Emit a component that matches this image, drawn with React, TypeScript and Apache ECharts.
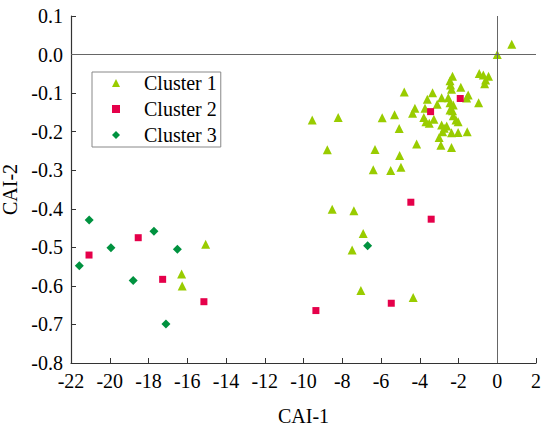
import React, { useEffect, useRef } from "react";
import * as echarts from "echarts";

const c1X = [0.75, 0, -0.93, -0.72, -0.45, -0.6, -0.65, -2.31, -2.44, -2.41, -2.36, -1.88, -1.5, -1.58, -0.96, -3.34, -2.87, -2.53, -3.61, -2.44, -2.27, -2.44, -2.31, -3.1, -4.25, -4.37, -3.79, -3.68, -3.51, -3.27, -2.27, -2.13, -2.02, -5.06, -2.87, -2.74, -2.61, -2.82, -2.36, -2.02, -1.55, -3.0, -4.16, -2.91, -2.36, -5.04, -4.8, -9.55, -8.21, -5.94, -5.3, -8.77, -6.31, -6.4, -5.5, -4.97, -3.73, -8.52, -7.4, -6.92, -7.49, -7.04, -4.34, -15.05, -16.29, -16.26];
const c1Y = [0.027, 0.0, -0.049, -0.053, -0.056, -0.066, -0.076, -0.056, -0.068, -0.079, -0.09, -0.085, -0.105, -0.113, -0.125, -0.099, -0.112, -0.112, -0.116, -0.125, -0.131, -0.144, -0.146, -0.129, -0.139, -0.152, -0.163, -0.174, -0.178, -0.168, -0.159, -0.17, -0.174, -0.192, -0.183, -0.191, -0.185, -0.2, -0.203, -0.202, -0.2, -0.215, -0.232, -0.235, -0.241, -0.262, -0.097, -0.17, -0.163, -0.164, -0.156, -0.247, -0.246, -0.299, -0.301, -0.292, -0.139, -0.401, -0.405, -0.464, -0.507, -0.612, -0.63, -0.492, -0.569, -0.6];

const c2X = [-1.91, -3.44, -4.46, -3.41, -5.47, -9.36, -18.53, -21.07, -17.27, -15.14];
const c2Y = [-0.114, -0.148, -0.383, -0.427, -0.645, -0.664, -0.475, -0.52, -0.583, -0.641];

const c3X = [-21.06, -17.72, -19.94, -16.51, -21.57, -18.79, -17.1, -6.69];
const c3Y = [-0.429, -0.458, -0.501, -0.505, -0.548, -0.586, -0.699, -0.496];

const seriesNames = ["Cluster 1", "Cluster 2", "Cluster 3"];
const xTicks = { min: -22, max: 2, interval: 2 };
const yTicks = { min: -0.8, max: 0.1, interval: 0.1 };

const FONT = "'Liberation Serif', 'Times New Roman', serif";

const pairs = (xs: number[], ys: number[]) => xs.map((x, i) => [x, ys[i]]);

export default function App() {
  const ref = useRef<HTMLDivElement>(null);
  useEffect(() => {
    if (!ref.current) return;
    const chart = echarts.init(ref.current, undefined, { renderer: "svg" });
    const axisCommon = {
      axisLine: { show: true, onZero: false, lineStyle: { color: "#333", width: 1.2 } },
      axisTick: { show: true, inside: true, length: 5, lineStyle: { color: "#333", width: 1 } },
      splitLine: { show: false },
      axisLabel: { color: "#000", fontSize: 20, fontFamily: FONT },
      nameTextStyle: { color: "#000", fontSize: 20, fontFamily: FONT },
    };
    chart.setOption({
      animation: false,
      backgroundColor: "#fff",
      grid: { left: 71, right: 14, top: 16, bottom: 64, containLabel: false, outerBoundsMode: "none" },
      xAxis: {
        type: "value",
        ...axisCommon,
        min: xTicks.min,
        max: xTicks.max,
        interval: xTicks.interval,
        name: "CAI-1",
        nameLocation: "middle",
        nameGap: 43,
        axisLabel: { ...axisCommon.axisLabel, margin: 8 },
      },
      yAxis: {
        type: "value",
        ...axisCommon,
        min: yTicks.min,
        max: yTicks.max,
        interval: yTicks.interval,
        name: "CAI-2",
        nameLocation: "middle",
        nameGap: 43,
        axisLabel: { ...axisCommon.axisLabel, margin: 8, formatter: (v: number) => v.toFixed(1) },
      },
      legend: {
        orient: "vertical",
        left: 92,
        top: 72,
        data: seriesNames,
        padding: [1, 4, 2, 20],
        itemGap: 6,
        itemWidth: 8,
        itemHeight: 8,
        borderColor: "#888",
        borderWidth: 1,
        borderRadius: 0,
        textStyle: { fontSize: 20, fontFamily: FONT, color: "#000", padding: [0, 0, 0, 19], lineHeight: 20 },
      },
      series: [
        {
          name: seriesNames[0],
          type: "scatter",
          symbol: "triangle",
          symbolSize: 9,
          itemStyle: { color: "#99CC00", opacity: 1 },
          data: pairs(c1X, c1Y),
          markLine: {
            silent: true,
            symbol: "none",
            label: { show: false },
            lineStyle: { color: "#666", width: 1, type: "solid" },
            data: [{ xAxis: 0 }, { yAxis: 0 }],
          },
          z: 2,
        },
        {
          name: seriesNames[1],
          type: "scatter",
          symbol: "rect",
          symbolSize: 7,
          itemStyle: { color: "#E5004A", opacity: 1 },
          data: pairs(c2X, c2Y),
          z: 3,
        },
        {
          name: seriesNames[2],
          type: "scatter",
          symbol: "diamond",
          symbolSize: 9,
          itemStyle: { color: "#00923F", opacity: 1 },
          data: pairs(c3X, c3Y),
          z: 4,
        },
      ],
    });
    return () => chart.dispose();
  }, []);
  return (
    <div
      ref={ref}
      style={{ position: "fixed", left: 0, top: 0, width: 550, height: 427, background: "#fff" }}
    />
  );
}
